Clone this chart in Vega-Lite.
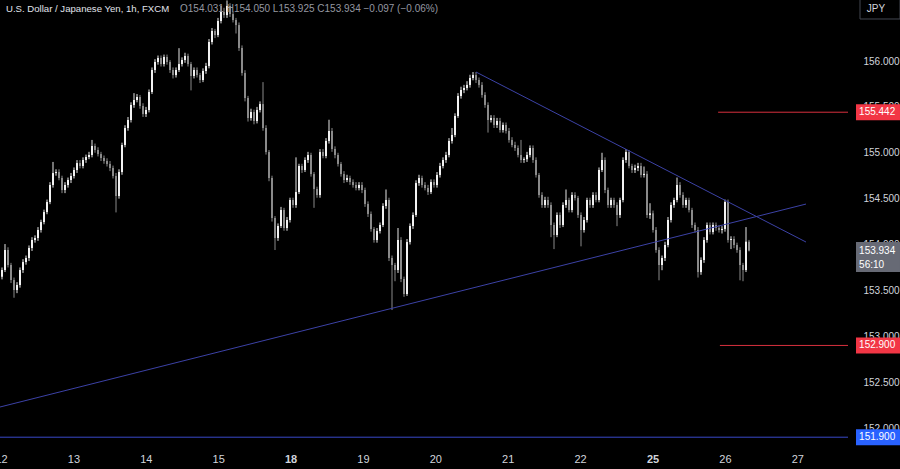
{
"$schema":"https://vega.github.io/schema/vega-lite/v6.json",
"width":848,"height":445,
"autosize":{"type":"none"},
"padding":{"left":0,"top":0,"right":52,"bottom":24},
"background":"#000000",
"config":{"view":{"stroke":null},"font":"Liberation Sans"},
"datasets":{
"candles":[
{"k":0,"o":153.65,"h":153.75,"l":153.62,"c":153.722},
{"k":1,"o":153.722,"h":154.005,"l":153.70,"c":153.94},
{"k":2,"o":153.94,"h":153.97,"l":153.75,"c":153.777},
{"k":3,"o":153.777,"h":153.80,"l":153.58,"c":153.613},
{"k":4,"o":153.613,"h":153.64,"l":153.42,"c":153.504},
{"k":5,"o":153.504,"h":153.59,"l":153.47,"c":153.559},
{"k":6,"o":153.559,"h":153.75,"l":153.53,"c":153.722},
{"k":7,"o":153.722,"h":153.84,"l":153.69,"c":153.809},
{"k":8,"o":153.809,"h":153.88,"l":153.78,"c":153.853},
{"k":9,"o":153.853,"h":153.99,"l":153.82,"c":153.962},
{"k":10,"o":153.962,"h":154.08,"l":153.93,"c":154.049},
{"k":11,"o":154.049,"h":154.10,"l":154.02,"c":154.071},
{"k":12,"o":154.071,"h":154.19,"l":154.04,"c":154.158},
{"k":13,"o":154.158,"h":154.27,"l":154.13,"c":154.245},
{"k":14,"o":154.245,"h":154.38,"l":154.22,"c":154.354},
{"k":15,"o":154.354,"h":154.49,"l":154.33,"c":154.463},
{"k":16,"o":154.463,"h":154.68,"l":154.44,"c":154.649},
{"k":17,"o":154.649,"h":154.90,"l":154.62,"c":154.779},
{"k":18,"o":154.779,"h":154.82,"l":154.75,"c":154.79},
{"k":19,"o":154.79,"h":154.82,"l":154.70,"c":154.725},
{"k":20,"o":154.725,"h":154.75,"l":154.56,"c":154.594},
{"k":21,"o":154.594,"h":154.68,"l":154.56,"c":154.649},
{"k":22,"o":154.649,"h":154.73,"l":154.62,"c":154.703},
{"k":23,"o":154.703,"h":154.78,"l":154.67,"c":154.747},
{"k":24,"o":154.747,"h":154.84,"l":154.72,"c":154.812},
{"k":25,"o":154.812,"h":154.92,"l":154.78,"c":154.888},
{"k":26,"o":154.888,"h":154.92,"l":154.83,"c":154.856},
{"k":27,"o":154.856,"h":154.95,"l":154.83,"c":154.921},
{"k":28,"o":154.921,"h":154.98,"l":154.89,"c":154.954},
{"k":29,"o":154.954,"h":155.01,"l":154.93,"c":154.976},
{"k":30,"o":154.976,"h":155.14,"l":154.95,"c":155.074},
{"k":31,"o":155.074,"h":155.10,"l":155.00,"c":155.03},
{"k":32,"o":155.03,"h":155.06,"l":154.96,"c":154.986},
{"k":33,"o":154.986,"h":155.01,"l":154.91,"c":154.943},
{"k":34,"o":154.943,"h":154.97,"l":154.88,"c":154.91},
{"k":35,"o":154.91,"h":154.94,"l":154.85,"c":154.878},
{"k":36,"o":154.878,"h":154.91,"l":154.80,"c":154.834},
{"k":37,"o":154.834,"h":154.86,"l":154.72,"c":154.747},
{"k":38,"o":154.747,"h":154.78,"l":154.35,"c":154.529},
{"k":39,"o":154.529,"h":154.82,"l":154.50,"c":154.79},
{"k":40,"o":154.79,"h":155.11,"l":154.76,"c":155.085},
{"k":41,"o":155.085,"h":155.30,"l":155.06,"c":155.27},
{"k":42,"o":155.27,"h":155.39,"l":155.24,"c":155.357},
{"k":43,"o":155.357,"h":155.55,"l":155.33,"c":155.521},
{"k":44,"o":155.521,"h":155.65,"l":155.49,"c":155.575},
{"k":45,"o":155.575,"h":155.64,"l":155.55,"c":155.608},
{"k":46,"o":155.608,"h":155.63,"l":155.48,"c":155.51},
{"k":47,"o":155.51,"h":155.54,"l":155.39,"c":155.422},
{"k":48,"o":155.422,"h":155.50,"l":155.39,"c":155.466},
{"k":49,"o":155.466,"h":155.69,"l":155.44,"c":155.662},
{"k":50,"o":155.662,"h":155.93,"l":155.64,"c":155.902},
{"k":51,"o":155.902,"h":156.02,"l":155.87,"c":155.989},
{"k":52,"o":155.989,"h":156.06,"l":155.96,"c":156.033},
{"k":53,"o":156.033,"h":156.06,"l":155.94,"c":155.967},
{"k":54,"o":155.967,"h":156.07,"l":155.94,"c":156.044},
{"k":55,"o":156.044,"h":156.07,"l":155.96,"c":155.989},
{"k":56,"o":155.989,"h":156.01,"l":155.87,"c":155.902},
{"k":57,"o":155.902,"h":155.93,"l":155.81,"c":155.847},
{"k":58,"o":155.847,"h":155.93,"l":155.82,"c":155.902},
{"k":59,"o":155.902,"h":156.14,"l":155.88,"c":155.967},
{"k":60,"o":155.967,"h":156.04,"l":155.94,"c":156.011},
{"k":61,"o":156.011,"h":156.09,"l":155.98,"c":156.055},
{"k":62,"o":156.055,"h":156.08,"l":155.94,"c":155.967},
{"k":63,"o":155.967,"h":155.99,"l":155.68,"c":155.837},
{"k":64,"o":155.837,"h":155.93,"l":155.81,"c":155.902},
{"k":65,"o":155.902,"h":155.93,"l":155.82,"c":155.847},
{"k":66,"o":155.847,"h":155.87,"l":155.76,"c":155.793},
{"k":67,"o":155.793,"h":155.92,"l":155.77,"c":155.891},
{"k":68,"o":155.891,"h":155.98,"l":155.86,"c":155.946},
{"k":69,"o":155.946,"h":156.24,"l":155.92,"c":156.207},
{"k":70,"o":156.207,"h":156.36,"l":156.18,"c":156.327},
{"k":71,"o":156.327,"h":156.35,"l":156.25,"c":156.283},
{"k":72,"o":156.283,"h":156.47,"l":156.26,"c":156.436},
{"k":73,"o":156.436,"h":156.60,"l":156.41,"c":156.534},
{"k":74,"o":156.534,"h":156.58,"l":156.47,"c":156.501},
{"k":75,"o":156.501,"h":156.66,"l":156.47,"c":156.60},
{"k":76,"o":156.60,"h":156.63,"l":156.48,"c":156.512},
{"k":77,"o":156.512,"h":156.54,"l":156.42,"c":156.447},
{"k":78,"o":156.447,"h":156.47,"l":156.30,"c":156.392},
{"k":79,"o":156.392,"h":156.42,"l":156.11,"c":156.142},
{"k":80,"o":156.142,"h":156.17,"l":155.84,"c":155.869},
{"k":81,"o":155.869,"h":155.90,"l":155.56,"c":155.597},
{"k":82,"o":155.597,"h":155.62,"l":155.34,"c":155.379},
{"k":83,"o":155.379,"h":155.48,"l":155.35,"c":155.444},
{"k":84,"o":155.444,"h":155.47,"l":155.31,"c":155.346},
{"k":85,"o":155.346,"h":155.50,"l":155.32,"c":155.466},
{"k":86,"o":155.466,"h":155.56,"l":155.44,"c":155.531},
{"k":87,"o":155.531,"h":155.77,"l":155.24,"c":155.27},
{"k":88,"o":155.27,"h":155.30,"l":154.98,"c":155.008},
{"k":89,"o":155.008,"h":155.03,"l":154.69,"c":154.725},
{"k":90,"o":154.725,"h":154.75,"l":154.25,"c":154.289},
{"k":91,"o":154.289,"h":154.31,"l":153.94,"c":154.071},
{"k":92,"o":154.071,"h":154.23,"l":154.04,"c":154.202},
{"k":93,"o":154.202,"h":154.41,"l":154.18,"c":154.376},
{"k":94,"o":154.376,"h":154.40,"l":154.15,"c":154.18},
{"k":95,"o":154.18,"h":154.30,"l":154.15,"c":154.267},
{"k":96,"o":154.267,"h":154.51,"l":154.24,"c":154.485},
{"k":97,"o":154.485,"h":154.51,"l":154.40,"c":154.431},
{"k":98,"o":154.431,"h":154.95,"l":154.40,"c":154.572},
{"k":99,"o":154.572,"h":154.88,"l":154.55,"c":154.856},
{"k":100,"o":154.856,"h":154.88,"l":154.78,"c":154.812},
{"k":101,"o":154.812,"h":154.95,"l":154.79,"c":154.921},
{"k":102,"o":154.921,"h":155.01,"l":154.89,"c":154.976},
{"k":103,"o":154.976,"h":155.00,"l":154.74,"c":154.768},
{"k":104,"o":154.768,"h":154.79,"l":154.40,"c":154.605},
{"k":105,"o":154.605,"h":154.63,"l":154.51,"c":154.54},
{"k":106,"o":154.54,"h":155.04,"l":154.51,"c":155.008},
{"k":107,"o":155.008,"h":155.04,"l":154.94,"c":154.965},
{"k":108,"o":154.965,"h":155.16,"l":154.94,"c":155.128},
{"k":109,"o":155.128,"h":155.36,"l":155.10,"c":155.237},
{"k":110,"o":155.237,"h":155.27,"l":155.01,"c":155.041},
{"k":111,"o":155.041,"h":155.07,"l":154.94,"c":154.976},
{"k":112,"o":154.976,"h":155.00,"l":154.85,"c":154.878},
{"k":113,"o":154.878,"h":154.90,"l":154.74,"c":154.768},
{"k":114,"o":154.768,"h":154.80,"l":154.67,"c":154.703},
{"k":115,"o":154.703,"h":154.76,"l":154.68,"c":154.725},
{"k":116,"o":154.725,"h":154.75,"l":154.65,"c":154.681},
{"k":117,"o":154.681,"h":154.71,"l":154.62,"c":154.649},
{"k":118,"o":154.649,"h":154.68,"l":154.59,"c":154.616},
{"k":119,"o":154.616,"h":154.68,"l":154.59,"c":154.649},
{"k":120,"o":154.649,"h":154.68,"l":154.56,"c":154.594},
{"k":121,"o":154.594,"h":154.62,"l":154.41,"c":154.442},
{"k":122,"o":154.442,"h":154.47,"l":154.30,"c":154.333},
{"k":123,"o":154.333,"h":154.36,"l":154.14,"c":154.169},
{"k":124,"o":154.169,"h":154.19,"l":154.02,"c":154.049},
{"k":125,"o":154.049,"h":154.18,"l":154.02,"c":154.147},
{"k":126,"o":154.147,"h":154.24,"l":154.12,"c":154.213},
{"k":127,"o":154.213,"h":154.45,"l":154.19,"c":154.42},
{"k":128,"o":154.42,"h":154.60,"l":154.39,"c":154.485},
{"k":129,"o":154.485,"h":154.51,"l":153.82,"c":153.853},
{"k":130,"o":153.853,"h":153.88,"l":153.286,"c":153.777},
{"k":131,"o":153.777,"h":153.80,"l":153.60,"c":153.722},
{"k":132,"o":153.722,"h":154.18,"l":153.69,"c":154.049},
{"k":133,"o":154.049,"h":154.08,"l":153.59,"c":153.624},
{"k":134,"o":153.624,"h":153.65,"l":153.43,"c":153.461},
{"k":135,"o":153.461,"h":154.06,"l":153.44,"c":154.027},
{"k":136,"o":154.027,"h":154.23,"l":154.00,"c":154.202},
{"k":137,"o":154.202,"h":154.35,"l":154.17,"c":154.322},
{"k":138,"o":154.322,"h":154.70,"l":154.30,"c":154.67},
{"k":139,"o":154.67,"h":154.76,"l":154.64,"c":154.725},
{"k":140,"o":154.725,"h":154.75,"l":154.62,"c":154.649},
{"k":141,"o":154.649,"h":154.68,"l":154.59,"c":154.616},
{"k":142,"o":154.616,"h":154.65,"l":154.54,"c":154.572},
{"k":143,"o":154.572,"h":154.71,"l":154.55,"c":154.681},
{"k":144,"o":154.681,"h":154.71,"l":154.62,"c":154.649},
{"k":145,"o":154.649,"h":154.79,"l":154.62,"c":154.758},
{"k":146,"o":154.758,"h":154.89,"l":154.73,"c":154.856},
{"k":147,"o":154.856,"h":154.95,"l":154.83,"c":154.921},
{"k":148,"o":154.921,"h":155.01,"l":154.89,"c":154.976},
{"k":149,"o":154.976,"h":155.16,"l":154.95,"c":155.128},
{"k":150,"o":155.128,"h":155.27,"l":155.10,"c":155.194},
{"k":151,"o":155.194,"h":155.43,"l":155.17,"c":155.401},
{"k":152,"o":155.401,"h":155.65,"l":155.38,"c":155.619},
{"k":153,"o":155.619,"h":155.72,"l":155.59,"c":155.684},
{"k":154,"o":155.684,"h":155.74,"l":155.65,"c":155.706},
{"k":155,"o":155.706,"h":155.78,"l":155.68,"c":155.739},
{"k":156,"o":155.739,"h":155.85,"l":155.71,"c":155.815},
{"k":157,"o":155.815,"h":155.88,"l":155.79,"c":155.847},
{"k":158,"o":155.847,"h":155.88,"l":155.76,"c":155.793},
{"k":159,"o":155.793,"h":155.82,"l":155.71,"c":155.739},
{"k":160,"o":155.739,"h":155.77,"l":155.60,"c":155.63},
{"k":161,"o":155.63,"h":155.66,"l":155.49,"c":155.521},
{"k":162,"o":155.521,"h":155.55,"l":155.22,"c":155.357},
{"k":163,"o":155.357,"h":155.41,"l":155.33,"c":155.379},
{"k":164,"o":155.379,"h":155.41,"l":155.27,"c":155.303},
{"k":165,"o":155.303,"h":155.38,"l":155.27,"c":155.346},
{"k":166,"o":155.346,"h":155.38,"l":155.22,"c":155.248},
{"k":167,"o":155.248,"h":155.33,"l":155.22,"c":155.303},
{"k":168,"o":155.303,"h":155.33,"l":155.21,"c":155.237},
{"k":169,"o":155.237,"h":155.27,"l":155.11,"c":155.139},
{"k":170,"o":155.139,"h":155.17,"l":155.06,"c":155.085},
{"k":171,"o":155.085,"h":155.12,"l":155.02,"c":155.052},
{"k":172,"o":155.052,"h":155.08,"l":154.95,"c":154.976},
{"k":173,"o":154.976,"h":155.14,"l":154.89,"c":154.921},
{"k":174,"o":154.921,"h":154.95,"l":154.89,"c":154.93},
{"k":175,"o":154.93,"h":155.01,"l":154.90,"c":154.976},
{"k":176,"o":154.976,"h":155.08,"l":154.95,"c":155.052},
{"k":177,"o":155.052,"h":155.08,"l":154.89,"c":154.921},
{"k":178,"o":154.921,"h":154.95,"l":154.73,"c":154.758},
{"k":179,"o":154.758,"h":154.78,"l":154.51,"c":154.54},
{"k":180,"o":154.54,"h":154.57,"l":154.40,"c":154.431},
{"k":181,"o":154.431,"h":154.52,"l":154.40,"c":154.485},
{"k":182,"o":154.485,"h":154.52,"l":154.40,"c":154.431},
{"k":183,"o":154.431,"h":154.46,"l":154.08,"c":154.213},
{"k":184,"o":154.213,"h":154.24,"l":153.95,"c":154.104},
{"k":185,"o":154.104,"h":154.35,"l":154.08,"c":154.322},
{"k":186,"o":154.322,"h":154.35,"l":154.18,"c":154.213},
{"k":187,"o":154.213,"h":154.46,"l":154.19,"c":154.431},
{"k":188,"o":154.431,"h":154.60,"l":154.40,"c":154.485},
{"k":189,"o":154.485,"h":154.51,"l":154.35,"c":154.376},
{"k":190,"o":154.376,"h":154.57,"l":154.35,"c":154.54},
{"k":191,"o":154.54,"h":154.57,"l":154.48,"c":154.507},
{"k":192,"o":154.507,"h":154.53,"l":154.29,"c":154.322},
{"k":193,"o":154.322,"h":154.35,"l":153.98,"c":154.158},
{"k":194,"o":154.158,"h":154.30,"l":154.13,"c":154.267},
{"k":195,"o":154.267,"h":154.51,"l":154.24,"c":154.485},
{"k":196,"o":154.485,"h":154.51,"l":154.40,"c":154.431},
{"k":197,"o":154.431,"h":154.57,"l":154.40,"c":154.54},
{"k":198,"o":154.54,"h":154.57,"l":154.46,"c":154.485},
{"k":199,"o":154.485,"h":154.84,"l":154.46,"c":154.812},
{"k":200,"o":154.812,"h":155.00,"l":154.79,"c":154.921},
{"k":201,"o":154.921,"h":154.95,"l":154.56,"c":154.594},
{"k":202,"o":154.594,"h":154.62,"l":154.40,"c":154.431},
{"k":203,"o":154.431,"h":154.51,"l":154.40,"c":154.485},
{"k":204,"o":154.485,"h":154.51,"l":154.40,"c":154.431},
{"k":205,"o":154.431,"h":154.46,"l":154.20,"c":154.322},
{"k":206,"o":154.322,"h":154.51,"l":154.29,"c":154.485},
{"k":207,"o":154.485,"h":154.95,"l":154.46,"c":154.921},
{"k":208,"o":154.921,"h":155.04,"l":154.89,"c":155.008},
{"k":209,"o":155.008,"h":155.03,"l":154.83,"c":154.856},
{"k":210,"o":154.856,"h":154.88,"l":154.78,"c":154.812},
{"k":211,"o":154.812,"h":154.87,"l":154.78,"c":154.834},
{"k":212,"o":154.834,"h":154.89,"l":154.80,"c":154.856},
{"k":213,"o":154.856,"h":154.89,"l":154.73,"c":154.758},
{"k":214,"o":154.758,"h":154.85,"l":154.73,"c":154.77},
{"k":215,"o":154.77,"h":154.80,"l":154.29,"c":154.322},
{"k":216,"o":154.322,"h":154.45,"l":154.28,"c":154.34},
{"k":217,"o":154.34,"h":154.37,"l":154.13,"c":154.158},
{"k":218,"o":154.158,"h":154.19,"l":153.91,"c":153.94},
{"k":219,"o":153.94,"h":153.97,"l":153.61,"c":153.777},
{"k":220,"o":153.777,"h":153.88,"l":153.72,"c":153.853},
{"k":221,"o":153.853,"h":154.03,"l":153.82,"c":153.995},
{"k":222,"o":153.995,"h":154.30,"l":153.97,"c":154.267},
{"k":223,"o":154.267,"h":154.46,"l":154.24,"c":154.431},
{"k":224,"o":154.431,"h":154.51,"l":154.40,"c":154.485},
{"k":225,"o":154.485,"h":154.73,"l":154.46,"c":154.649},
{"k":226,"o":154.649,"h":154.68,"l":154.51,"c":154.54},
{"k":227,"o":154.54,"h":154.57,"l":154.40,"c":154.431},
{"k":228,"o":154.431,"h":154.51,"l":154.40,"c":154.485},
{"k":229,"o":154.485,"h":154.51,"l":154.35,"c":154.376},
{"k":230,"o":154.376,"h":154.40,"l":154.18,"c":154.213},
{"k":231,"o":154.213,"h":154.24,"l":154.13,"c":154.158},
{"k":232,"o":154.158,"h":154.19,"l":153.64,"c":153.70},
{"k":233,"o":153.70,"h":153.86,"l":153.67,"c":153.831},
{"k":234,"o":153.831,"h":154.08,"l":153.80,"c":154.049},
{"k":235,"o":154.049,"h":154.24,"l":154.02,"c":154.213},
{"k":236,"o":154.213,"h":154.24,"l":154.11,"c":154.136},
{"k":237,"o":154.136,"h":154.24,"l":154.11,"c":154.213},
{"k":238,"o":154.213,"h":154.24,"l":154.15,"c":154.18},
{"k":239,"o":154.18,"h":154.21,"l":154.13,"c":154.158},
{"k":240,"o":154.158,"h":154.20,"l":154.12,"c":154.17},
{"k":241,"o":154.17,"h":154.49,"l":154.14,"c":154.463},
{"k":242,"o":154.463,"h":154.49,"l":154.02,"c":154.049},
{"k":243,"o":154.049,"h":154.09,"l":153.95,"c":154.06},
{"k":244,"o":154.06,"h":154.09,"l":153.96,"c":153.995},
{"k":245,"o":153.995,"h":154.02,"l":153.91,"c":153.94},
{"k":246,"o":153.94,"h":153.97,"l":153.61,"c":153.777},
{"k":247,"o":153.777,"h":153.80,"l":153.60,"c":153.722},
{"k":248,"o":153.722,"h":154.19,"l":153.70,"c":154.031},
{"k":249,"o":154.031,"h":154.05,"l":153.925,"c":153.934}
],
"trend":[
{"line":"support","k":-0.667,"p":152.229},
{"line":"support","k":268,"p":154.441},
{"line":"resistance","k":158,"p":155.88},
{"line":"resistance","k":268,"p":154.027}
],
"levels":[
{"p":155.442,"k0":238.7},
{"p":152.9,"k0":239.3},
{"p":151.9,"k0":-0.667}
],
"last":[{"p":153.934,"countdown":"56:10"}]
},
"data":{"name":"candles"},
"layer":[
{
"mark":{"type":"rule","strokeWidth":1},
"encoding":{
"x":{"field":"k","type":"quantitative","scale":{"domain":[-0.667,282],"nice":false,"zero":false,"padding":0},
"axis":{"values":[-0.33,23.8,47.93,72.06,96.19,120.32,144.45,168.58,192.71,216.84,240.97,265.1],
"labelExpr":"['12','13','14','15','18','19','20','21','22','25','26','27'][round((datum.value+0.33)/24.13)]",
"labelFlush":false,"labelOverlap":false,"labelBound":false,"domain":false,"ticks":false,"grid":false,
"labelColor":"#d1d4dc","labelFontSize":11,"labelPadding":8,"title":null,"labelFont":"Liberation Sans Narrow, Liberation Sans",
"labelFontWeight":{"condition":{"test":"(datum.value > 90 && datum.value < 100) || (datum.value > 210 && datum.value < 220)","value":"bold"},"value":"normal"}}},
"y":{"field":"l","type":"quantitative","scale":{"domain":[151.815,156.665],"nice":false,"zero":false,"padding":0},
"axis":{"orient":"right","values":[152,152.5,153,153.5,154,154.5,155,155.5,156],"format":".3f","domain":false,"ticks":false,"grid":false,
"labelColor":"#d1d4dc","labelFontSize":10,"labelPadding":15,"title":null}},
"y2":{"field":"h"},
"color":{"condition":{"test":"datum.c >= datum.o","value":"#e6e6e6"},"value":"#8a8a8a"}
}
},
{
"mark":{"type":"bar","width":2},
"encoding":{
"x":{"field":"k","type":"quantitative"},
"y":{"field":"o","type":"quantitative"},
"y2":{"field":"c"},
"color":{"condition":{"test":"datum.c >= datum.o","value":"#f2f2f2"},"value":"#8a8a8a"}
}
},
{
"data":{"name":"trend"},
"mark":{"type":"line","strokeWidth":1,"color":"#3c42a6"},
"encoding":{
"x":{"field":"k","type":"quantitative"},
"y":{"field":"p","type":"quantitative"},
"detail":{"field":"line"}
}
},
{
"data":{"name":"levels"},
"mark":{"type":"rule","strokeWidth":1},
"encoding":{
"x":{"field":"k0","type":"quantitative"},
"x2":{"datum":282},
"y":{"field":"p","type":"quantitative"},
"color":{"condition":{"test":"datum.p < 152","value":"#3949c8"},"value":"#d7303e"}
}
},
{
"data":{"name":"levels"},
"mark":{"type":"point","shape":"M-1,-0.364H1V0.364H-1Z","size":1936,"filled":true,"opacity":1,"strokeWidth":0},
"encoding":{
"x":{"datum":292},
"y":{"field":"p","type":"quantitative"},
"color":{"condition":{"test":"datum.p < 152","value":"#2962ff"},"value":"#f23645"}
}
},
{
"data":{"name":"levels"},
"mark":{"type":"text","align":"left","baseline":"middle","fontSize":10,"color":"#ffffff"},
"encoding":{
"x":{"datum":285.7},
"y":{"field":"p","type":"quantitative"},
"text":{"field":"p","format":".3f"}
}
},
{
"data":{"name":"last"},
"mark":{"type":"point","shape":"M-1,-0.68H1V0.68H-1Z","size":1936,"filled":true,"opacity":1,"strokeWidth":0,"color":"#676a75","yOffset":6.5},
"encoding":{
"x":{"datum":292},
"y":{"field":"p","type":"quantitative"}
}
},
{
"data":{"name":"last"},
"mark":{"type":"text","align":"left","baseline":"middle","fontSize":10,"color":"#ffffff"},
"encoding":{
"x":{"datum":285.7},
"y":{"field":"p","type":"quantitative"},
"text":{"field":"p","format":".3f"}
}
},
{
"data":{"name":"last"},
"mark":{"type":"text","align":"left","baseline":"middle","fontSize":10,"color":"#ffffff","dy":14},
"encoding":{
"x":{"datum":285.7},
"y":{"field":"p","type":"quantitative"},
"text":{"field":"countdown"}
}
},
{
"data":{"values":[{"unit":"JPY"}]},
"mark":{"type":"point","shape":"M-1,-0.5H1V0.5H-1Z","size":1600,"filled":false,"stroke":"#434651","strokeWidth":1,"fill":"#000000","opacity":1},
"encoding":{
"x":{"datum":292.67},
"y":{"datum":156.567}
}
},
{
"data":{"values":[{"unit":"JPY"}]},
"mark":{"type":"text","align":"center","baseline":"middle","fontSize":10,"color":"#d1d4dc"},
"encoding":{
"x":{"datum":291.3},
"y":{"datum":156.567},
"text":{"field":"unit"}
}
},
{
"data":{"values":[{"name":"U.S. Dollar / Japanese Yen, 1h, FXCM"}]},
"mark":{"type":"text","align":"left","baseline":"middle","fontSize":9.6,"color":"#e0e3eb"},
"encoding":{
"x":{"datum":1.33},
"y":{"datum":156.567},
"text":{"field":"name"}
}
},
{
"data":{"values":[{"ohlc":"O154.031  H154.050  L153.925  C153.934  −0.097 (−0.06%)"}]},
"mark":{"type":"text","align":"left","baseline":"middle","fontSize":10,"color":"#9598a1"},
"encoding":{
"x":{"datum":59.33},
"y":{"datum":156.567},
"text":{"field":"ohlc"}
}
}
]
}
